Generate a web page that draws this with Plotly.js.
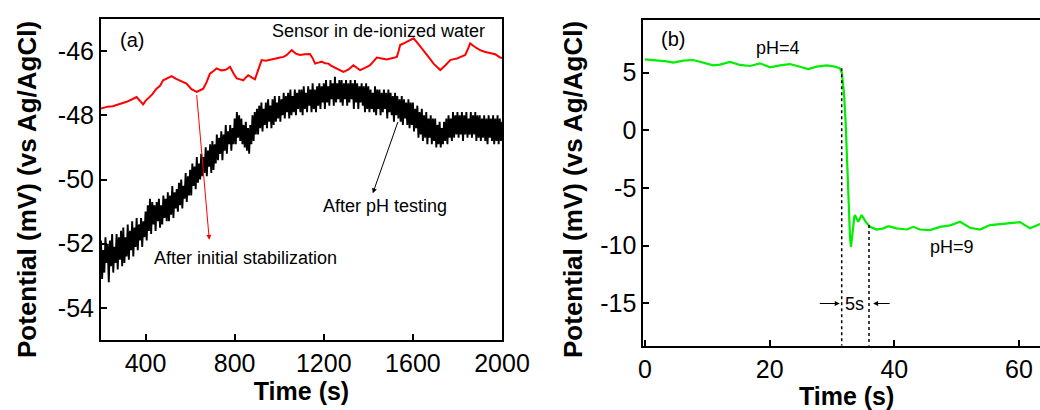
<!DOCTYPE html>
<html>
<head>
<meta charset="utf-8">
<script src="https://cdn.plot.ly/plotly-3.0.1.min.js"></script>
<style>
html, body { margin: 0; padding: 0; overflow: hidden; background: #fff; }
#chart { width: 1050px; height: 410px; }
</style>
</head>
<body>
<div id="chart"></div>
<script>
// ---------- Panel (a) data ----------
const redTime = [200,230,253,285,315,340,360,375,389,400,412,430,449,465,479,500,517,535,554,570,584,605,629,645,659,675,689,705,719,740,756,768,779,795,809,825,839,850,861,876,891,905,921,940,959,980,1004,1020,1034,1045,1056,1075,1093,1115,1138,1150,1161,1176,1191,1205,1221,1232,1243,1265,1288,1310,1333,1348,1363,1385,1408,1423,1438,1460,1483,1505,1528,1536,1543,1570,1603,1625,1648,1670,1693,1710,1723,1745,1768,1783,1798,1815,1835,1846,1857,1880,1902,1925,1947,1970,1992,2000];
const redValue = [-47.79,-47.73,-47.72,-47.66,-47.58,-47.50,-47.43,-47.55,-47.66,-47.55,-47.48,-47.35,-47.17,-47.08,-46.91,-46.85,-46.78,-46.86,-46.91,-46.95,-47.01,-47.18,-47.27,-47.22,-47.17,-46.95,-46.70,-46.62,-46.54,-46.60,-46.59,-46.55,-46.49,-46.70,-46.85,-46.88,-46.91,-46.82,-46.75,-46.82,-46.88,-46.60,-46.28,-46.30,-46.26,-46.24,-46.20,-46.18,-46.12,-46.05,-45.97,-46.08,-46.12,-46.10,-46.09,-46.22,-46.39,-46.36,-46.33,-46.38,-46.39,-46.45,-46.49,-46.55,-46.65,-46.58,-46.44,-46.52,-46.59,-46.52,-46.44,-46.32,-46.20,-46.23,-46.26,-46.22,-46.18,-46.00,-45.81,-45.72,-45.60,-45.78,-45.97,-46.18,-46.39,-46.50,-46.59,-46.45,-46.28,-46.25,-46.23,-46.18,-46.12,-45.95,-45.76,-45.88,-45.97,-46.03,-46.07,-46.10,-46.20,-46.22];

// black trace: one reading every 5 s starting at 200 s
const blackStart = 200;
const blackStep = 5;
const blackValue = [
-51.9,-53.1,-52.2,-52.9,-51.8,-52.6,-52.0,-53.2,-51.9,-52.7,-51.7,-52.9,-52.1,-52.6,-51.7,-52.8,-51.8,-52.5,-51.6,-52.7,
-51.5,-52.6,-51.8,-52.4,-51.4,-52.5,-51.6,-52.2,-51.3,-52.4,-51.5,-52.1,-51.2,-52.2,-51.4,-51.9,-51.2,-52.1,-51.3,-51.8,
-51.0,-51.9,-50.8,-51.6,-50.6,-51.7,-50.7,-51.4,-50.8,-51.6,-50.7,-51.3,-50.6,-51.5,-50.8,-51.4,-50.5,-51.2,-50.6,-51.3,
-50.4,-51.3,-50.5,-51.1,-50.2,-51.2,-50.4,-50.9,-50.3,-51.0,-50.1,-50.8,-50.0,-50.9,-50.2,-50.6,-49.8,-50.7,-49.9,-50.5,
-49.7,-50.5,-49.5,-50.2,-49.6,-50.3,-49.3,-50.1,-49.5,-50.0,-49.2,-49.9,-49.3,-49.8,-49.0,-49.9,-49.1,-49.6,-48.9,-49.8,
-48.8,-49.7,-48.9,-49.5,-48.6,-49.4,-48.7,-49.2,-48.5,-49.4,-48.6,-49.1,-48.3,-49.2,-48.5,-48.9,-48.3,-49.1,-48.4,-48.9,
-48.1,-48.9,-47.9,-48.7,-48.0,-48.8,-48.1,-48.9,-48.3,-49.0,-48.2,-49.1,-48.4,-49.2,-48.3,-48.9,-48.0,-48.8,-47.9,-48.6,
-47.8,-48.6,-47.7,-48.4,-47.6,-48.5,-47.8,-48.3,-47.6,-48.4,-47.5,-48.2,-47.7,-48.4,-47.5,-48.3,-47.4,-48.2,-47.6,-48.1,
-47.4,-48.2,-47.5,-48.0,-47.3,-48.1,-47.4,-47.9,-47.3,-48.1,-47.2,-48.0,-47.4,-47.9,-47.2,-48.0,-47.3,-47.8,-47.2,-47.9,
-47.2,-48.0,-47.1,-47.8,-47.3,-47.9,-47.1,-47.7,-47.2,-47.9,-47.0,-47.8,-47.2,-47.9,-47.1,-47.7,-47.0,-47.8,-47.1,-47.6,
-47.0,-47.8,-46.9,-47.6,-47.1,-47.7,-46.9,-47.5,-47.0,-47.7,-46.8,-47.6,-47.0,-47.5,-46.9,-47.6,-46.9,-47.7,-47.0,-47.5,
-46.9,-47.7,-47.0,-47.6,-46.9,-47.5,-47.0,-47.8,-46.9,-47.6,-47.0,-47.8,-47.1,-47.6,-47.0,-47.7,-47.1,-47.9,-47.0,-47.8,
-47.1,-47.9,-47.2,-47.8,-47.3,-47.9,-47.1,-48.0,-47.2,-47.8,-47.2,-48.0,-47.3,-47.9,-47.2,-47.8,-47.3,-48.1,-47.2,-47.9,
-47.3,-48.0,-47.4,-48.2,-47.3,-48.0,-47.4,-48.1,-47.5,-48.2,-47.4,-48.3,-47.5,-48.1,-47.6,-48.3,-47.5,-48.4,-47.6,-48.3,
-47.6,-48.5,-47.8,-48.4,-47.7,-48.7,-47.9,-48.6,-47.8,-48.8,-48.0,-48.7,-47.9,-48.9,-48.1,-48.7,-48.0,-48.9,-48.1,-48.8,
-48.1,-49.0,-48.3,-48.9,-48.2,-49.0,-48.4,-48.9,-48.2,-48.8,-48.1,-48.9,-48.0,-48.7,-48.1,-48.8,-47.9,-48.7,-48.0,-48.6,
-47.9,-48.7,-48.0,-48.6,-47.9,-48.8,-48.0,-48.6,-47.9,-48.7,-48.1,-48.6,-47.9,-48.7,-48.0,-48.6,-47.9,-48.8,-48.0,-48.7,
-48.0,-48.8,-48.1,-48.7,-48.0,-48.8,-48.1,-48.9,-48.0,-48.7,-48.1,-48.8,-48.0,-48.9,-48.1,-48.8,-48.0,-48.9,-48.1,-48.8,
-48.2];

const aTickVals = [400,800,1200,1600,2000];
const aTickText = ["400","800","1200","1600","2000"];
const aYTickVals = [-54,-52,-50,-48,-46];
const aYTickText = ["-54","-52","-50","-48","-46"];

// ---------- Panel (b) data ----------
const greenTime = [0,1.2,2.41,3.5,4.55,6.15,7.76,9.36,10.96,12.03,13.64,15.24,16.85,18.45,20.05,21.66,23.26,24.87,26.2,27.55,29.15,30.48,31.28,31.6,31.93,32.2,32.36,32.52,32.73,32.89,33.05,33.32,33.58,33.69,34.22,34.76,35.45,36.1,37.17,38.24,39.04,40.38,41.99,43.05,44.12,45.72,47.33,48.93,50.54,52.14,53.75,55.35,56.96,58.56,60.16,61.77,63.37,65];
const greenValue = [6.16,6.10,6.10,5.98,5.87,6.04,6.10,5.87,5.64,5.70,5.93,5.67,5.58,5.81,5.47,5.64,5.75,5.52,5.32,5.52,5.64,5.52,5.38,4.95,3.2,0.63,-1.71,-4.6,-6.9,-9.24,-10.1,-8.65,-7.5,-7.35,-7.93,-7.35,-7.96,-8.37,-8.6,-8.5,-8.31,-8.5,-8.6,-8.37,-8.6,-8.65,-8.37,-8.25,-7.93,-8.45,-8.6,-8.22,-8.13,-8.0,-7.96,-8.5,-8.13,-8.2];

const bTickVals = [0,20,40,60];
const bTickText = ["0","20","40","60"];
const bYTickVals = [-15,-10,-5,0,5];
const bYTickText = ["-15","-10","-5","0","5"];

// response-time markers
const markStart = 31.56, markStartTop = 5.38;
const markEnd = 35.94, markEndTop = -8.22;
const markLevel = -15.02;

const FONT = "Arial, 'Liberation Sans', sans-serif";

const traces = [
  {y: blackValue, x0: blackStart, dx: blackStep, type: 'scatter', mode: 'lines', line: {color: '#000000', width: 1.9}, xaxis: 'x', yaxis: 'y', hoverinfo: 'skip'},
  {x: redTime, y: redValue, type: 'scatter', mode: 'lines', line: {color: '#ff0000', width: 2}, xaxis: 'x', yaxis: 'y', hoverinfo: 'skip'},
  {x: greenTime, y: greenValue, type: 'scatter', mode: 'lines', line: {color: '#00ee00', width: 2.2}, xaxis: 'x2', yaxis: 'y2', hoverinfo: 'skip'}
];

function axisX(domain, range, vals, text, anchor) {
  return {
    domain: domain, range: range, anchor: anchor,
    tickmode: 'array', tickvals: vals, ticktext: text,
    ticks: 'inside', ticklen: 6, tickwidth: 2, tickcolor: '#000',
    showline: true, linewidth: 2, linecolor: '#000', mirror: true,
    showgrid: false, zeroline: false, automargin: false,
    tickfont: {family: FONT, size: 25, color: '#000'},
    title: {text: 'Time (s)', standoff: 6, font: {family: FONT, size: 25, color: '#000', weight: 'bold'}}
  };
}
function axisY(domain, range, vals, text, anchor) {
  return {
    domain: domain, range: range, anchor: anchor,
    tickmode: 'array', tickvals: vals, ticktext: text,
    ticks: 'inside', ticklen: 6, tickwidth: 2, tickcolor: '#000',
    showline: true, linewidth: 2, linecolor: '#000', mirror: true,
    showgrid: false, zeroline: false, automargin: false,
    tickfont: {family: FONT, size: 25, color: '#000'}
  };
}

const txt = (size) => ({family: FONT, size: size, color: '#000'});

const annotations = [
  // y titles
  {xref: 'paper', yref: 'paper', x: 27/1050, y: (410-190)/410, text: 'Potential (mV) (vs Ag/AgCl)', textangle: -90, showarrow: false, font: {family: FONT, size: 26, color: '#000', weight: 'bold'}, xanchor: 'center', yanchor: 'middle'},
  {xref: 'paper', yref: 'paper', x: 573/1050, y: (410-190)/410, text: 'Potential (mV) (vs Ag/AgCl)', textangle: -90, showarrow: false, font: {family: FONT, size: 26, color: '#000', weight: 'bold'}, xanchor: 'center', yanchor: 'middle'},
  // panel a texts
  {xref: 'x', yref: 'y', x: 341, y: -45.66, text: '(a)', showarrow: false, font: txt(20)},
  {xref: 'x', yref: 'y', x: 1447, y: -45.375, text: 'Sensor in de-ionized water', showarrow: false, font: txt(18)},
  {xref: 'x', yref: 'y', x: 1473, y: -50.83, text: 'After pH testing', showarrow: false, font: txt(18)},
  {xref: 'x', yref: 'y', x: 848, y: -52.46, text: 'After initial stabilization', showarrow: false, font: txt(18)},
  // panel a arrows
  {xref: 'x', yref: 'y', axref: 'x', ayref: 'y', x: 686, y: -51.88, ax: 629, ay: -47.32, text: '', showarrow: true, arrowhead: 2, arrowsize: 1, arrowwidth: 1, arrowcolor: '#ff0000'},
  {xref: 'x', yref: 'y', axref: 'x', ayref: 'y', x: 1420, y: -50.43, ax: 1535, ay: -48.16, text: '', showarrow: true, arrowhead: 2, arrowsize: 1, arrowwidth: 1, arrowcolor: '#000'},
  // panel b texts
  {xref: 'x2', yref: 'y2', x: 4.49, y: 7.9, text: '(b)', showarrow: false, font: txt(20)},
  {xref: 'x2', yref: 'y2', x: 21.26, y: 7.12, text: 'pH=4', showarrow: false, font: txt(18)},
  {xref: 'x2', yref: 'y2', x: 49.33, y: -10.1, text: 'pH=9', showarrow: false, font: txt(18)},
  {xref: 'x2', yref: 'y2', x: 33.69, y: markLevel, text: '5s', showarrow: false, font: txt(18)},
  {xref: 'x2', yref: 'y2', axref: 'x2', ayref: 'y2', x: 31.25, y: markLevel, ax: 27.8, ay: markLevel, text: '', showarrow: true, arrowhead: 2, arrowsize: 1, arrowwidth: 1, arrowcolor: '#000'},
  {xref: 'x2', yref: 'y2', axref: 'x2', ayref: 'y2', x: 36.6, y: markLevel, ax: 39.5, ay: markLevel, text: '', showarrow: true, arrowhead: 2, arrowsize: 1, arrowwidth: 1, arrowcolor: '#000'}
];

const shapes = [
  {type: 'line', xref: 'x2', yref: 'y2', x0: markStart, x1: markStart, y0: markStartTop, y1: -18.68, line: {color: '#000', width: 1.5, dash: 'dot'}},
  {type: 'line', xref: 'x2', yref: 'y2', x0: markEnd, x1: markEnd, y0: markEndTop, y1: -18.68, line: {color: '#000', width: 1.5, dash: 'dot'}}
];

const layout = {
  width: 1050, height: 410,
  margin: {l: 0, r: 0, t: 0, b: 0},
  paper_bgcolor: '#fff', plot_bgcolor: '#fff',
  showlegend: false,
  font: {family: FONT, color: '#000'},
  xaxis: axisX([101/1050, 502/1050], [200, 2000], aTickVals, aTickText, 'y'),
  yaxis: axisY([(410-340)/410, (410-19)/410], [-55, -45], aYTickVals, aYTickText, 'x'),
  xaxis2: axisX([643.3/1050, 1], [-0.27, 64.98], bTickVals, bTickText, 'y2'),
  yaxis2: axisY([(410-345.7)/410, (410-20)/410], [-18.68, 9.57], bYTickVals, bYTickText, 'x2'),
  annotations: annotations,
  shapes: shapes
};

Plotly.newPlot('chart', traces, layout, {staticPlot: true, displayModeBar: false});
</script>
</body>
</html>
